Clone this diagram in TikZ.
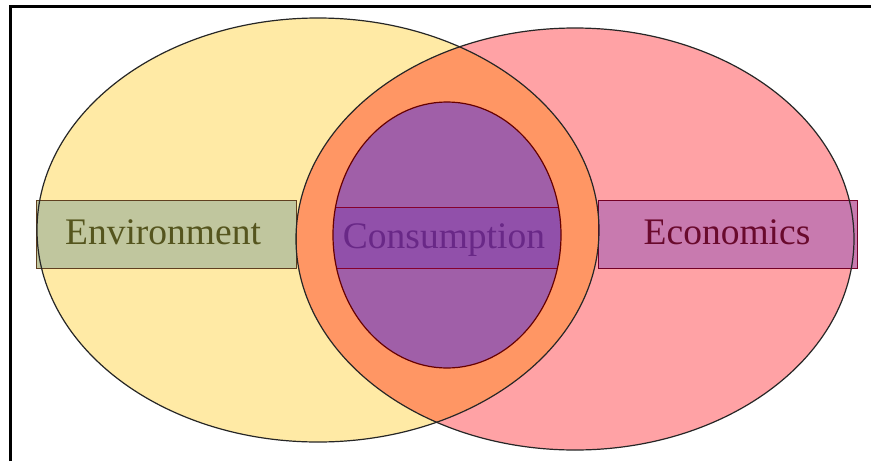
\documentclass[tikz,border=0pt]{standalone}
\usepackage{fontspec}
\setmainfont{Liberation Serif}
\definecolor{envyel}{RGB}{255,234,165}
\definecolor{ecopink}{RGB}{255,162,165}
\definecolor{lensor}{RGB}{255,150,100}
\definecolor{conspur}{RGB}{160,95,168}
\definecolor{envbox}{RGB}{192,198,158}
\definecolor{consbox}{RGB}{145,80,170}
\definecolor{ecobox}{RGB}{200,122,175}
\definecolor{envtxt}{RGB}{85,85,30}
\definecolor{constxt}{RGB}{105,40,135}
\definecolor{ecotxt}{RGB}{105,10,45}
\tikzset{
  outl/.style={draw=black!85, line width=1.2pt},
  boxst/.style={rectangle, inner sep=0pt, line width=0.9pt},
  lbl/.style={font=\fontsize{37.5}{42}\selectfont, inner sep=0pt}
}
\begin{document}
\begin{tikzpicture}[x=1pt,y=-1pt]
\useasboundingbox (0,0) rectangle (871,461);
\fill[white] (0,0) rectangle (871,461);
% fills
\fill[envyel] (318,230) ellipse [x radius=281, y radius=212];
\fill[ecopink] (575,239) ellipse [x radius=279, y radius=211];
\begin{scope}
  \clip (318,230) ellipse [x radius=281, y radius=212];
  \fill[lensor] (575,239) ellipse [x radius=279, y radius=211];
\end{scope}
% boxes
\node[boxst, fill=envbox, draw=black!50!brown, minimum width=260pt, minimum height=68pt] (envb) at (166,234) {};
\node[boxst, fill=ecobox, draw=black!40!purple, minimum width=259pt, minimum height=68pt] (ecob) at (727.5,234) {};
% outlines
\draw[outl] (318,230) ellipse [x radius=281, y radius=212];
\draw[outl] (575,239) ellipse [x radius=279, y radius=211];
% consumption circle
\fill[conspur] (447,235) ellipse [x radius=114, y radius=133];
\begin{scope}
  \clip (447,235) ellipse [x radius=114, y radius=133];
  \node[boxst, fill=consbox, draw=black!30!purple, minimum width=230pt, minimum height=61pt] (consb) at (446,237.5) {};
\end{scope}
\draw[draw=black!60!red, line width=1.2pt] (447,235) ellipse [x radius=114, y radius=133];
% labels
\node[lbl, text=envtxt] (envt) at (163,232) {Environment};
\node[lbl, text=constxt] (const) at (444,240) {Consumption};
\node[lbl, text=ecotxt] (ecot) at (727,232) {Economics};
% frame
\draw[line width=3pt] (10.5,461) -- (10.5,6) -- (871,6);
\end{tikzpicture}
\end{document}
